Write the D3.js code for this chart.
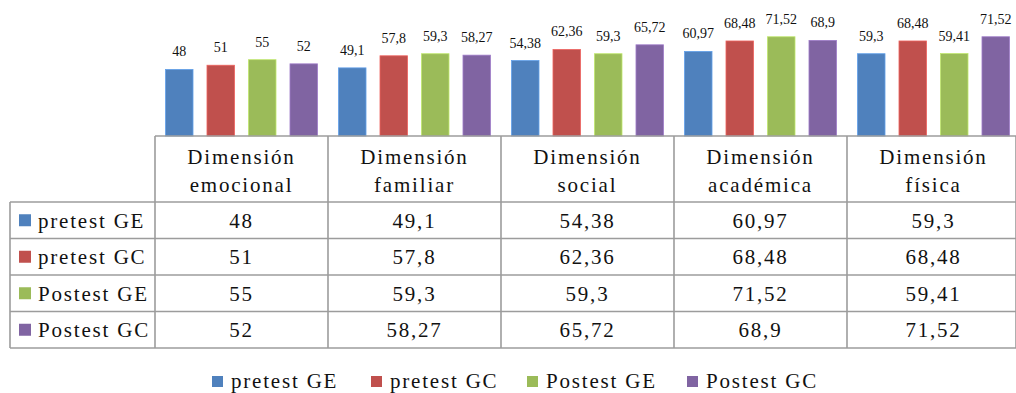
<!DOCTYPE html>
<html>
<head>
<meta charset="utf-8">
<script src="https://cdn.jsdelivr.net/npm/d3@7"></script>
<style>
  body { margin: 0; background: #fff; }
  text { font-family: "Liberation Serif", serif; fill: #111; }
</style>
</head>
<body>
<div id="chart"></div>
<script>
// Bar chart with data table underneath

const categories = [
  ["Dimensión", "emocional"],
  ["Dimensión", "familiar"],
  ["Dimensión", "social"],
  ["Dimensión", "académica"],
  ["Dimensión", "física"]
];
const seriesNames = ["pretest GE", "pretest GC", "Postest GE", "Postest GC"];
const pretestGE = [48, 49.1, 54.38, 60.97, 59.3];
const pretestGC = [51, 57.8, 62.36, 68.48, 68.48];
const postestGE = [55, 59.3, 59.3, 71.52, 59.41];
const postestGC = [52, 58.27, 65.72, 68.9, 71.52];
const seriesValues = [pretestGE, pretestGC, postestGE, postestGC];
const colors = ["#4f81bd", "#c0504d", "#9bbb59", "#8064a2"];

const w = 1016, h = 393;
const svg = d3.select("#chart").append("svg")
  .attr("width", w)
  .attr("height", h);

const fmt = v => String(v).replace(".", ",");
const idx = d3.range(categories.length);

// Scales
const tableL = 155, colW = 173;
const x0 = d3.scaleBand()
  .domain(idx)
  .range([tableL, tableL + colW * categories.length]);

const x1 = d3.scaleBand()
  .domain(d3.range(seriesNames.length))
  .range([0, x0.bandwidth()])
  .paddingInner(0.337)
  .paddingOuter(0.253);

const y = d3.scaleLinear()
  .domain([0, 80])
  .range([136, 25]);

// Bars
const cells = [];
seriesValues.forEach((vals, s) => {
  vals.forEach((v, c) => cells.push({ s, c, v }));
});

svg.append("g").selectAll("rect")
  .data(cells)
  .join("rect")
  .attr("x", d => x0(d.c) + x1(d.s))
  .attr("y", d => y(d.v))
  .attr("width", x1.bandwidth())
  .attr("height", d => y(0) - y(d.v))
  .attr("fill", d => colors[d.s])
  .attr("stroke", d => d3.color(colors[d.s]).brighter(0.6))
  .attr("stroke-width", 0.8);

svg.append("g").selectAll("text")
  .data(cells)
  .join("text")
  .attr("x", d => x0(d.c) + x1(d.s) + x1.bandwidth() / 2)
  .attr("y", d => y(d.v) - 13)
  .attr("text-anchor", "middle")
  .attr("font-size", 14)
  .text(d => fmt(d.v));

// Data table
const rowY = d3.scaleBand()
  .domain(d3.range(seriesNames.length))
  .range([202, 348]);
const headTop = 136, labelL = 10;
const tableR = x0.range()[1];

const grid = svg.append("g")
  .attr("stroke", "#9c9c9c")
  .attr("stroke-width", 1.6)
  .attr("fill", "none");

// horizontal lines
grid.append("line").attr("x1", tableL).attr("x2", tableR).attr("y1", headTop).attr("y2", headTop);
rowY.domain().concat([seriesNames.length]).forEach(r => {
  const yy = r < seriesNames.length ? rowY(r) : rowY.range()[1];
  grid.append("line").attr("x1", labelL).attr("x2", tableR).attr("y1", yy).attr("y2", yy);
});
// vertical lines
grid.append("line").attr("x1", labelL).attr("x2", labelL).attr("y1", rowY.range()[0]).attr("y2", rowY.range()[1]);
idx.concat([categories.length]).forEach(c => {
  const xx = c < categories.length ? x0(c) : tableR - 4;
  grid.append("line").attr("x1", xx).attr("x2", xx).attr("y1", headTop).attr("y2", rowY.range()[1]);
});

const tableFont = { size: 21, spacing: 1.8 };

// header text
const head = svg.append("g").selectAll("text")
  .data(categories)
  .join("text")
  .attr("text-anchor", "middle")
  .attr("font-size", tableFont.size)
  .attr("letter-spacing", tableFont.spacing);
head.append("tspan")
  .attr("x", (d, i) => x0(i) + colW / 2)
  .attr("y", 163.5)
  .text(d => d[0]);
head.append("tspan")
  .attr("x", (d, i) => x0(i) + colW / 2)
  .attr("y", 191.5)
  .text(d => d[1]);

// row labels with colour keys
const rows = svg.append("g").selectAll("g")
  .data(seriesNames)
  .join("g")
  .attr("transform", (d, i) => `translate(0 ${rowY(i) + rowY.bandwidth() / 2})`);
rows.append("rect")
  .attr("x", 19)
  .attr("y", -6)
  .attr("width", 12)
  .attr("height", 12)
  .attr("fill", (d, i) => colors[i]);
rows.append("text")
  .attr("x", 38)
  .attr("y", 7.5)
  .attr("font-size", tableFont.size)
  .attr("letter-spacing", tableFont.spacing)
  .text(d => d);

// values
svg.append("g").selectAll("text")
  .data(cells)
  .join("text")
  .attr("x", d => x0(d.c) + colW / 2)
  .attr("y", d => rowY(d.s) + rowY.bandwidth() / 2 + 7.5)
  .attr("text-anchor", "middle")
  .attr("font-size", tableFont.size)
  .attr("letter-spacing", tableFont.spacing)
  .text(d => fmt(d.v));

// Legend
const legendX = [212, 371, 527, 687];
const legend = svg.append("g").selectAll("g")
  .data(seriesNames)
  .join("g")
  .attr("transform", (d, i) => `translate(${legendX[i]} 382)`);
legend.append("rect")
  .attr("x", 0)
  .attr("y", -6)
  .attr("width", 11)
  .attr("height", 11)
  .attr("fill", (d, i) => colors[i]);
legend.append("text")
  .attr("x", 19)
  .attr("y", 6)
  .attr("font-size", 21)
  .attr("letter-spacing", 1.8)
  .text(d => d);
</script>
</body>
</html>
